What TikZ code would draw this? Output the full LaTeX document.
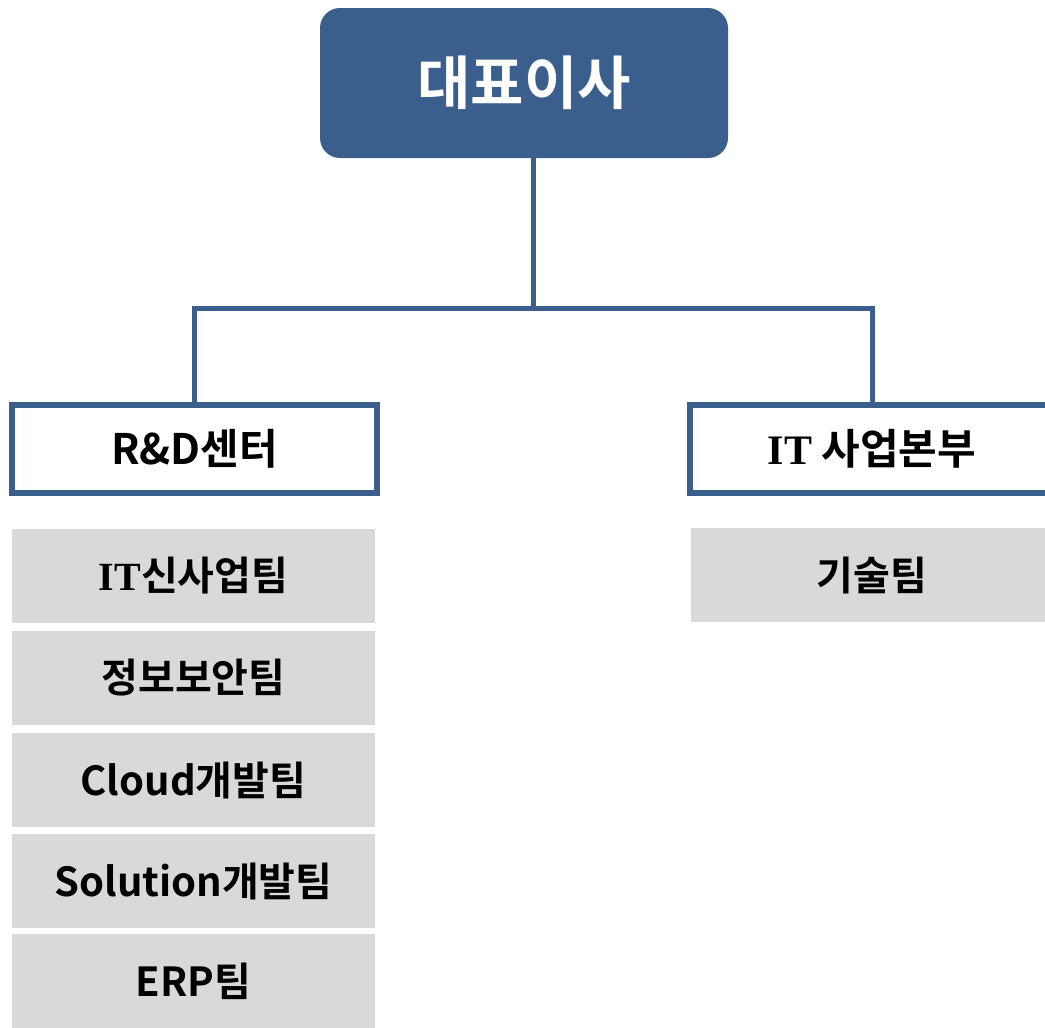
\documentclass[tikz,border=0pt]{standalone}
\usepackage{fontspec}
\setmainfont{Noto Sans CJK KR}[BoldFont={Noto Sans CJK KR Bold}]
\newfontfamily\serifit{Liberation Serif}
\usepackage{tikz}
\usetikzlibrary{positioning}
\definecolor{ceoblue}{RGB}{58,95,141}
\definecolor{teamgray}{RGB}{217,217,217}
\tikzstyle{ceo}=[
        rectangle,
        rounded corners=10pt,
        fill=ceoblue,
        text=white,
        font=\fontsize{29}{32}\selectfont\bfseries,
        minimum width=204pt,
        minimum height=75pt
]
\tikzstyle{division}=[rectangle,draw=ceoblue,line width=3pt,fill=white,
font=\fontsize{21}{24}\selectfont\bfseries,minimum width=182.5pt,minimum height=44pt]
\tikzstyle{team}=[rectangle,fill=teamgray,font=\fontsize{20}{23}\selectfont\bfseries,
minimum width=181.5pt,minimum height=47pt]
\tikzstyle{branch}=[draw=ceoblue,line width=2.5pt]

\begin{document}
\begin{tikzpicture}[x=0.5pt,y=0.5pt]
\useasboundingbox (0,0) rectangle (1045,-1028);
\node[ceo] (ceo) at (524,-83) {대표이사};
\node[division] (rd) at (194.5,-449) {R\&D센터};
\node[division] (itdiv) at (872,-449) {{\serifit IT} 사업본부};
\node[team] (newbiz) at (193.5,-576) {{\serifit IT}신사업팀};
\node[team] (security) at (193.5,-677.5) {정보보안팀};
\node[team] (cloud) at (193.5,-780) {Cloud개발팀};
\node[team] (solution) at (193.5,-881) {Solution개발팀};
\node[team] (erp) at (193.5,-981) {ERP팀};
\node[team] (tech) at (872,-575) {기술팀};
%Drawing Edges
\coordinate (bus) at (533,-308);
\draw[branch] (ceo.south -| bus) -- (bus);
\draw[branch] (rd.north) |- (bus) -| (itdiv.north);
\end{tikzpicture}
\end{document}
